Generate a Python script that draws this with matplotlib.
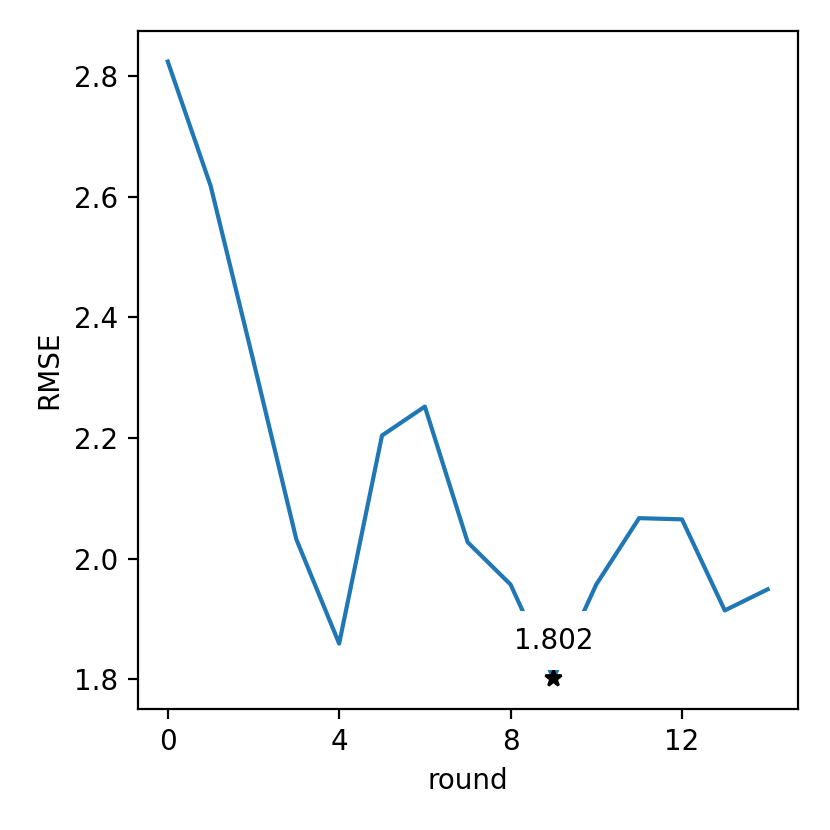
import matplotlib
matplotlib.use("Agg")
import matplotlib.pyplot as plt

rounds = list(range(15))
rmse = [2.824, 2.618, 2.327, 2.032, 1.859, 2.204, 2.252, 2.027, 1.957, 1.802,
        1.957, 2.067, 2.065, 1.914, 1.949]
best_round = 9
best_val = 1.802

fig = plt.figure(figsize=(4.15, 4.15), dpi=200)
ax = fig.add_axes([0.166, 0.146, 0.795, 0.817])
ax.plot(rounds, rmse, color="#1f77b4")
ax.plot([best_round], [best_val], marker="*", color="black", linestyle="none")
ax.text(best_round, best_val + 0.062, f"{best_val:.3f}", ha="center", va="center",
        bbox=dict(facecolor="white", edgecolor="none", pad=5.5))
ax.set_xticks([0, 4, 8, 12])
ax.set_xlabel("round")
ax.set_ylabel("RMSE")
fig.savefig("out.png", dpi=200)
